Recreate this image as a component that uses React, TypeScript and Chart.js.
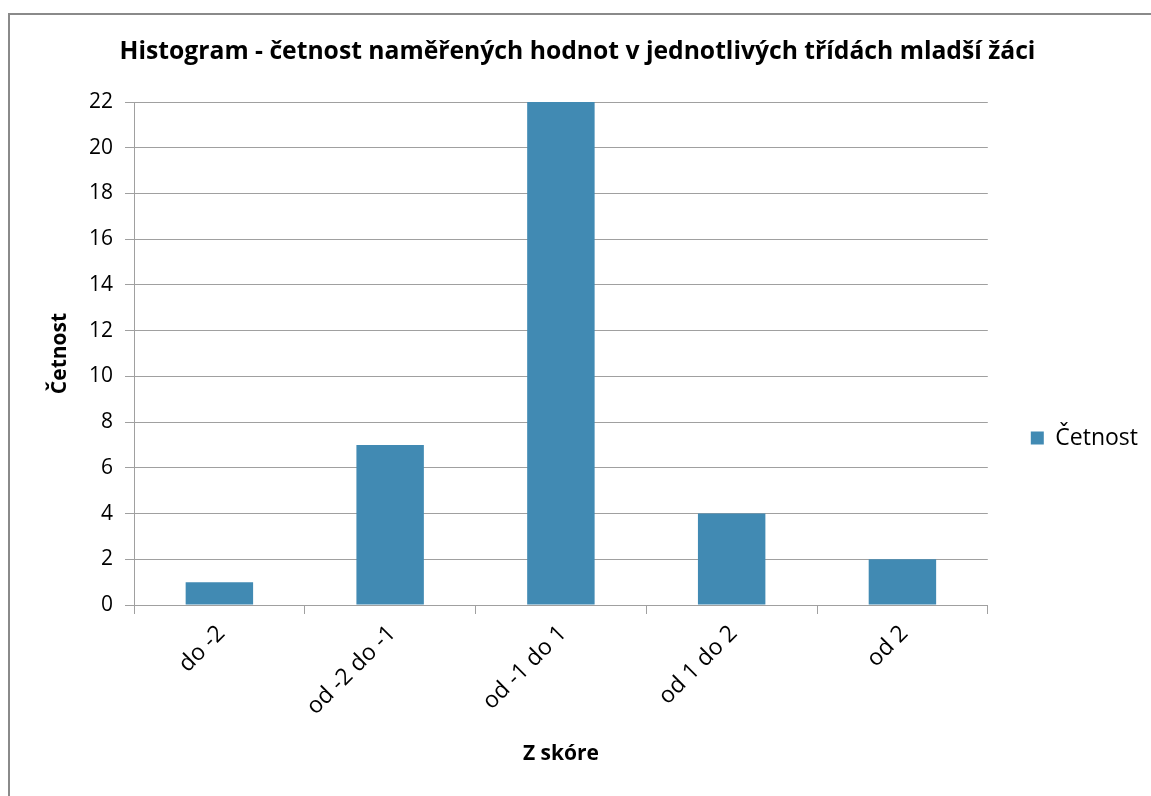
import React, { useEffect, useRef } from "react";
import { Chart, registerables } from "chart.js";

Chart.register(...registerables);

const categories = ["do -2", "od -2 do -1", "od -1 do 1", "od 1 do 2", "od 2"];
const counts = [1, 7, 22, 4, 2];
const seriesName = "Četnost";
const chartTitle = "Histogram - četnost naměřených hodnot v jednotlivých třídách mladší žáci";
const xTitle = "Z skóre";
const yTitle = "Četnost";
const yMin = 0;
const yMax = 22;
const yStep = 2;

const FONT = "'Open Sans', Lato, sans-serif";
const BAR = "#418AB3";
const GRID = "#a0a0a0";

export default function App() {
  const ref = useRef<HTMLCanvasElement | null>(null);

  useEffect(() => {
    if (!ref.current) return;
    const chart = new Chart(ref.current, {
      type: "bar",
      data: {
        labels: categories,
        datasets: [
          {
            label: seriesName,
            data: counts,
            backgroundColor: BAR,
            borderWidth: 0,
            categoryPercentage: 1,
            barPercentage: 0.395,
          },
        ],
      },
      options: {
        responsive: false,
        animation: false,
        layout: { padding: { left: 7, right: 3, top: 0, bottom: 22 } },
        plugins: {
          title: {
            display: true,
            text: chartTitle,
            color: "#000",
            font: { family: FONT, size: 24.7, weight: "bold", lineHeight: 1.2 },
            padding: { top: 37.2, bottom: 35.2 },
          },
          legend: {
            display: true,
            position: "right",
            fullSize: false,
            align: "center",
            title: {
              display: true,
              text: " ",
              font: { family: FONT, size: 10, lineHeight: 1 },
              padding: { top: 0, bottom: 159 },
            },
            labels: {
              boxWidth: 13,
              boxHeight: 13,
              padding: 43,
              color: "#000",
              font: { family: FONT, size: 23 },
            },
          },
          tooltip: { enabled: false },
        },
        scales: {
          x: {
            offset: true,
            grid: {
              offset: true,
              drawOnChartArea: false,
              drawTicks: true,
              tickLength: 9,
              color: GRID,
            },
            border: { color: GRID, width: 1 },
            ticks: {
              color: "#000",
              font: { family: FONT, size: 23 },
              minRotation: 45,
              maxRotation: 45,
              padding: 6,
              labelOffset: 2,
            },
            title: {
              display: true,
              text: xTitle,
              color: "#000",
              font: { family: FONT, size: 21, weight: "bold", lineHeight: 1.2 },
              padding: { top: 0, bottom: 7 },
            },
            afterFit: (s: any) => {
              s.height = 169;
            },
          },
          y: {
            min: yMin,
            max: yMax,
            grid: {
              color: GRID,
              tickLength: 9,
              drawTicks: true,
            },
            border: { color: GRID, width: 1 },
            ticks: {
              stepSize: yStep,
              color: "#000",
              padding: 12,
              font: { family: FONT, size: 21 },
            },
            title: {
              display: true,
              text: yTitle,
              color: "#000",
              font: { family: FONT, size: 21, weight: "bold", lineHeight: 1.2 },
              padding: { top: 40, bottom: 0 },
            },
            afterFit: (s: any) => {
              s.width = 127;
            },
          },
        },
      },
    });
    return () => chart.destroy();
  }, []);

  return (
    <div style={{ position: "fixed", left: 0, top: 0, width: 1151, height: 796, background: "#fff", overflow: "hidden" }}>
      <div
        style={{
          position: "absolute",
          left: 8,
          top: 13,
          width: 1300,
          height: 900,
          borderLeft: "2px solid #8a8a8a",
          borderTop: "2px solid #8a8a8a",
        }}
      />
      <canvas ref={ref} width={1151} height={796} style={{ position: "absolute", left: 0, top: 0 }} />
    </div>
  );
}
